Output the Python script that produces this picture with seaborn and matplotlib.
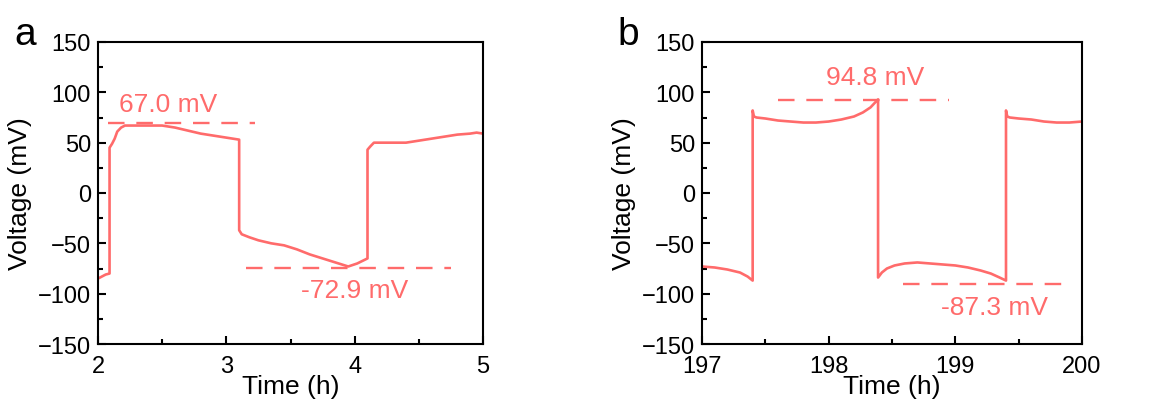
import matplotlib
matplotlib.use("Agg")
import matplotlib.pyplot as plt
import seaborn as sns
import pandas as pd
from matplotlib.ticker import MultipleLocator

# Panel a: early cycling
time_a = [2.00, 2.03, 2.06, 2.09, 2.09, 2.11, 2.13, 2.15, 2.18, 2.21, 2.30, 2.40, 2.50,
          2.60, 2.70, 2.80, 2.90, 3.00, 3.10,
          3.10, 3.12, 3.18, 3.25, 3.35, 3.45, 3.55, 3.65, 3.75, 3.85, 3.95, 4.02, 4.10,
          4.10, 4.12, 4.15, 4.25, 4.40, 4.50, 4.60, 4.70, 4.80, 4.90, 4.95, 5.00]
volt_a = [-85, -83, -81, -80, 45, 49, 54, 61, 65, 67, 67, 67, 67,
          65, 62, 59, 57, 55, 53,
          -37, -41, -44, -47, -50, -52, -56, -61, -65, -69, -73, -70, -65,
          43, 46, 50, 50, 50, 52, 54, 56, 58, 59, 60, 59]

# Panel b: late cycling
time_b = [197.00, 197.10, 197.20, 197.30, 197.36, 197.40,
          197.40, 197.41, 197.43, 197.50, 197.60, 197.70, 197.80, 197.90, 198.00, 198.10,
          198.20, 198.27, 198.33, 198.39,
          198.39, 198.42, 198.46, 198.52, 198.60, 198.70, 198.80, 198.90, 199.00, 199.10,
          199.20, 199.28, 199.35, 199.40,
          199.40, 199.41, 199.43, 199.50, 199.60, 199.70, 199.80, 199.90, 200.00]
volt_b = [-73, -74, -76, -79, -83, -87,
          82, 76, 75, 74, 72, 71, 70, 70, 71, 73,
          76, 80, 85, 93,
          -84, -79, -75, -72, -70, -69, -70, -71, -72, -74,
          -77, -80, -84, -87,
          82, 76, 75, 74, 73, 71, 70, 70, 71]

labels = ["a", "b"]
peak_text = ["67.0 mV", "94.8 mV"]
valley_text = ["-72.9 mV", "-87.3 mV"]
peak_y = [69.5, 92.7]
valley_y = [-74.5, -90.4]
peak_span = [(2.08, 3.22), (197.6, 198.95)]
valley_span = [(3.15, 4.75), (198.59, 199.93)]
peak_pos = [(2.55, 88), (198.37, 115)]
valley_pos = [(4.0, -96), (199.31, -113)]
xlims = [(2, 5), (197, 200)]

sns.set_theme(style="ticks")
plt.rcParams["font.family"] = ["Liberation Sans", "DejaVu Sans"]

RED = "#ff6b6b"

fig = plt.figure(figsize=(11.67, 4.10), dpi=100)
ax_a = fig.add_axes([98 / 1167, 1 - 345 / 410, 385 / 1167, 302 / 410])
ax_b = fig.add_axes([702 / 1167, 1 - 345 / 410, 380 / 1167, 302 / 410])

frames = [pd.DataFrame({"t": time_a, "v": volt_a}),
          pd.DataFrame({"t": time_b, "v": volt_b})]
letter_x = [25 / 1167, 628 / 1167]

for i, (ax, df) in enumerate(zip([ax_a, ax_b], frames)):
    sns.lineplot(data=df, x="t", y="v", ax=ax, color=RED, lw=1.9, sort=False,
                 estimator=None)
    ax.hlines(peak_y[i], *peak_span[i], colors=RED, linestyles=(0, (7, 5)), lw=1.7)
    ax.hlines(valley_y[i], *valley_span[i], colors=RED, linestyles=(0, (7, 5)), lw=1.7)
    ax.text(*peak_pos[i], peak_text[i], color=RED, fontsize=19, ha="center", va="center")
    ax.text(*valley_pos[i], valley_text[i], color=RED, fontsize=19, ha="center", va="center")

    ax.set_xlim(*xlims[i])
    ax.set_ylim(-150, 150)
    ax.xaxis.set_major_locator(MultipleLocator(1))
    ax.xaxis.set_minor_locator(MultipleLocator(0.5))
    ax.yaxis.set_major_locator(MultipleLocator(50))
    ax.yaxis.set_minor_locator(MultipleLocator(25))
    ax.tick_params(which="both", direction="in", labelsize=17, width=1.5,
                   colors="black", labelcolor="black")
    ax.tick_params(axis="x", which="both", pad=8)
    ax.tick_params(axis="y", which="both", pad=5)
    ax.tick_params(which="major", length=6)
    ax.tick_params(which="minor", length=3.5)
    for s in ax.spines.values():
        s.set_linewidth(1.5)
        s.set_color("black")
    ax.set_xlabel("Time (h)", fontsize=19, labelpad=-2, color="black")
    ax.set_ylabel("Voltage (mV)", fontsize=19, labelpad=4, color="black")
    fig.text(letter_x[i], 1 - 35 / 410, labels[i], fontsize=28, color="black",
             ha="center", va="center")

fig.savefig("out.png", dpi=100)
